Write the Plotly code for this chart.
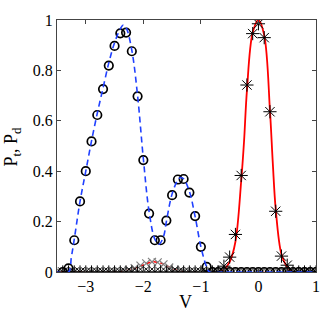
import plotly.graph_objects as go

# ---- data ----
V_grid = [-3.4, -3.3, -3.2, -3.1, -3.0, -2.9, -2.8, -2.7, -2.6, -2.5, -2.4, -2.3,
          -2.2, -2.1, -2.0, -1.9, -1.8, -1.7, -1.6, -1.5, -1.4, -1.3, -1.2, -1.1,
          -1.0, -0.9, -0.8, -0.7, -0.6, -0.5, -0.4, -0.3, -0.2, -0.1, 0.0, 0.1,
          0.2, 0.3, 0.4, 0.5, 0.6, 0.7, 0.8, 0.9, 1.0]

# circles (numerical P_t)
Pt_num = [0.0, 0.014, 0.126, 0.28, 0.40, 0.518, 0.623, 0.726, 0.819, 0.897, 0.947, 0.95,
          0.876, 0.697, 0.444, 0.232, 0.126, 0.126, 0.204, 0.305, 0.367, 0.369, 0.315, 0.222,
          0.10, 0.02, 0.0, 0.0, 0.0, 0.0, 0.0, 0.0, 0.0, 0.0, 0.0, 0.0,
          0.0, 0.0, 0.0, 0.0, 0.0, 0.0, 0.0, 0.0, 0.0]

# asterisks (numerical, second peak)
Pa_num = [0.0, 0.0, 0.0, 0.0, 0.0, 0.0, 0.0, 0.0, 0.0, 0.0, 0.0, 0.0,
          0.0, 0.0, 0.0, 0.0, 0.0, 0.0, 0.0, 0.0, 0.0, 0.0, 0.0, 0.0,
          0.0, 0.0, 0.0, 0.0, 0.023, 0.059, 0.149, 0.383, 0.742, 0.946, 0.985, 0.93,
          0.636, 0.241, 0.063, 0.027, 0.0, 0.0, 0.0, 0.0, 0.0]

# gray x markers (numerical P_d)
V_x = [-3.45, -3.35, -3.25, -3.15, -3.05, -2.95, -2.85, -2.75, -2.65, -2.55, -2.45, -2.35,
       -2.25, -2.15, -2.05, -1.95, -1.85, -1.75, -1.65, -1.55, -1.45, -1.35, -1.25, -1.15,
       -1.05, -0.95, -0.85, -0.75, -0.65, -0.55, -0.45, -0.35, -0.25, -0.15, -0.05, 0.05,
       0.15, 0.25, 0.35, 0.45, 0.55, 0.65, 0.75, 0.85, 0.95]
Pd_num = [0.0, 0.0, 0.0, 0.0, 0.0, 0.0, 0.0, 0.0, 0.0, 0.0, 0.0, 0.003,
          0.008, 0.015, 0.025, 0.034, 0.040, 0.038, 0.030, 0.018, 0.008, 0.003, 0.0, 0.0,
          0.0, 0.0, 0.0, 0.0, 0.0, 0.0, 0.0, 0.0, 0.0, 0.0, 0.0, 0.0,
          0.0, 0.0, 0.0, 0.0, 0.0, 0.0, 0.0, 0.0, 0.0]

# blue dashed theory curve
V_blue = [-3.5, -3.3, -3.25, -3.2, -3.1, -3.0, -2.9, -2.8, -2.7, -2.6, -2.5, -2.4, -2.35,
          -2.3, -2.2, -2.1, -2.0, -1.9, -1.8, -1.73, -1.65, -1.6, -1.5, -1.4, -1.35, -1.3,
          -1.2, -1.1, -1.0, -0.9, -0.85, -0.6, 1.0]
P_blue = [0.0, 0.0, 0.06, 0.13, 0.28, 0.40, 0.52, 0.63, 0.73, 0.83, 0.91, 0.965, 0.98,
          0.97, 0.88, 0.70, 0.45, 0.24, 0.13, 0.11, 0.14, 0.20, 0.31, 0.365, 0.375, 0.37,
          0.32, 0.22, 0.10, 0.02, 0.0, 0.0, 0.0]

# red solid theory curve
V_red = [-3.5, -0.7, -0.6, -0.5, -0.4, -0.3, -0.25, -0.2, -0.1, 0.0, 0.1, 0.2, 0.25,
         0.3, 0.4, 0.5, 0.6, 1.0]
P_red = [0.0, 0.0, 0.01, 0.04, 0.12, 0.36, 0.52, 0.72, 0.95, 1.0, 0.94, 0.64, 0.43,
         0.25, 0.07, 0.02, 0.0, 0.0]

# red dashed theory curve (small bump)
V_rd = [-3.5, -2.45, -2.3, -2.2, -2.0, -1.85, -1.7, -1.55, -1.4, -1.25, 1.0]
P_rd = [0.0, 0.0, 0.005, 0.011, 0.028, 0.040, 0.036, 0.020, 0.006, 0.0, 0.0]

x_ticks = [-3, -2, -1, 0, 1]
y_ticks = [0, 0.2, 0.4, 0.6, 0.8, 1]

FONT = "Liberation Serif"

fig = go.Figure()

fig.add_trace(go.Scatter(x=V_red, y=P_red, mode="lines", line_shape="spline",
                         line=dict(color="red", width=1.8)))
fig.add_trace(go.Scatter(x=V_rd, y=P_rd, mode="lines", line_shape="spline",
                         line=dict(color="red", width=1.5, dash="4px,3px")))
fig.add_trace(go.Scatter(x=V_x, y=Pd_num, mode="markers",
                         marker=dict(symbol="x-thin-open", size=8, color="#808080",
                                     line=dict(color="#808080", width=1.2))))
fig.add_trace(go.Scatter(x=V_grid, y=Pa_num, mode="markers",
                         marker=dict(symbol="asterisk-open", size=11, color="black",
                                     line=dict(color="black", width=1))))
fig.add_trace(go.Scatter(x=V_grid, y=Pt_num, mode="markers",
                         marker=dict(symbol="circle-open", size=8.5, color="black",
                                     line=dict(color="black", width=1.7))))
fig.add_trace(go.Scatter(x=V_blue, y=P_blue, mode="lines", line_shape="spline",
                         line=dict(color="#2040ff", width=1.6, dash="6px,4px")))

axis_common = dict(showgrid=False, zeroline=False, showline=True, linecolor="#444",
                   linewidth=1, mirror="ticks", ticks="inside", ticklen=4,
                   tickcolor="#444", tickfont=dict(family=FONT, size=16, color="black"))

fig.update_xaxes(range=[-3.5, 1], tickvals=x_ticks, **axis_common)
fig.update_yaxes(range=[0, 1], tickvals=y_ticks, **axis_common)

fig.update_layout(
    width=332, height=310,
    margin=dict(l=57, r=14, t=12, b=38),
    paper_bgcolor="white", plot_bgcolor="white",
    showlegend=False,
    annotations=[
        dict(text="V", xref="paper", yref="paper", x=0.498, y=-0.07,
             xanchor="center", yanchor="top", showarrow=False,
             font=dict(family=FONT, size=18, color="black")),
        dict(text="P<sub>t</sub>, P<sub>d</sub>", xref="paper", yref="paper",
             x=-0.172, y=0.5, xanchor="center", yanchor="middle", textangle=-90,
             showarrow=False, font=dict(family=FONT, size=18, color="black")),
    ],
)

fig.write_html("out.html", config={"displayModeBar": False},
               post_script="document.body.style.margin='0px';")
